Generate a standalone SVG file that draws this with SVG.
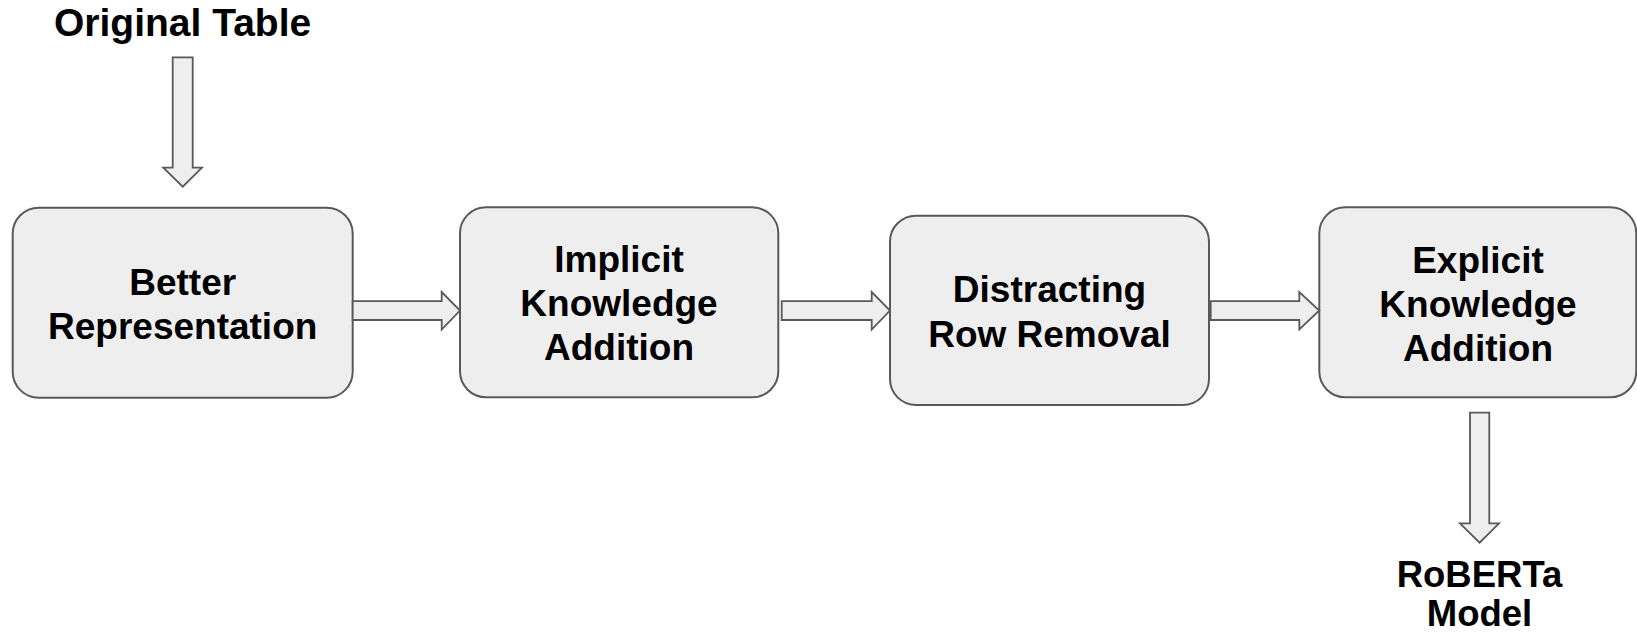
<svg xmlns="http://www.w3.org/2000/svg" width="1637" height="633" viewBox="0 0 1637 633">
  <style>
    .box { fill: #eeeeee; stroke: #595959; stroke-width: 2; }
    .arrow { fill: #eeeeee; stroke: #595959; stroke-width: 1.8; stroke-linejoin: miter; }
    .lbl { font-family: "Liberation Sans", Arial, Helvetica, sans-serif; font-weight: bold; font-size: 37px; fill: #000000; text-anchor: middle; }
  </style>
  <rect width="1637" height="633" fill="#ffffff"/>

  <!-- input / output labels -->
  <g id="input-label">
    <text class="lbl" x="182.6" y="36" style="font-size:39px">Original Table</text>
  </g>
  <g id="output-label">
    <text class="lbl" x="1479.5" y="587" style="font-size:36.5px">RoBERTa</text>
    <text class="lbl" x="1479.5" y="626" style="font-size:36.5px">Model</text>
  </g>

  <!-- pipeline stages -->
  <g id="better-representation">
    <rect class="box" x="12.7" y="207.7" width="340" height="190" rx="26" ry="26"/>
    <text class="lbl" x="182.7" y="295">Better</text>
    <text class="lbl" x="182.7" y="338.5">Representation</text>
  </g>
  <g id="implicit-knowledge">
    <rect class="box" x="460" y="207.3" width="318.3" height="190" rx="26" ry="26"/>
    <text class="lbl" x="619" y="272">Implicit</text>
    <text class="lbl" x="619" y="316">Knowledge</text>
    <text class="lbl" x="619" y="360">Addition</text>
  </g>
  <g id="distracting-row-removal">
    <rect class="box" x="890" y="215.7" width="319" height="189.3" rx="26" ry="26"/>
    <text class="lbl" x="1049.5" y="302">Distracting</text>
    <text class="lbl" x="1049.5" y="346.5">Row Removal</text>
  </g>
  <g id="explicit-knowledge">
    <rect class="box" x="1319.3" y="207.3" width="317" height="190" rx="26" ry="26"/>
    <text class="lbl" x="1478" y="273">Explicit</text>
    <text class="lbl" x="1478" y="317">Knowledge</text>
    <text class="lbl" x="1478" y="361">Addition</text>
  </g>

  <!-- block arrows between stages -->
  <g id="connectors">
    <polygon class="arrow" points="172.7,57.3 192.7,57.3 192.7,167.7 202,167.7 182.7,186.7 163.3,167.7 172.7,167.7"/>
    <polygon class="arrow" points="352.7,301.2 441.7,301.2 441.7,292 460,310.5 441.7,329.5 441.7,320 352.7,320"/>
    <polygon class="arrow" points="781.7,301.2 871.7,301.2 871.7,292 890,310.5 871.7,329.5 871.7,320 781.7,320"/>
    <polygon class="arrow" points="1210.7,301.2 1299.3,301.2 1299.3,292 1319.3,310.5 1299.3,329.5 1299.3,320 1210.7,320"/>
    <polygon class="arrow" points="1470,412.7 1489.3,412.7 1489.3,523.3 1499,523.3 1479.6,542.7 1460,523.3 1470,523.3"/>
  </g>
</svg>
